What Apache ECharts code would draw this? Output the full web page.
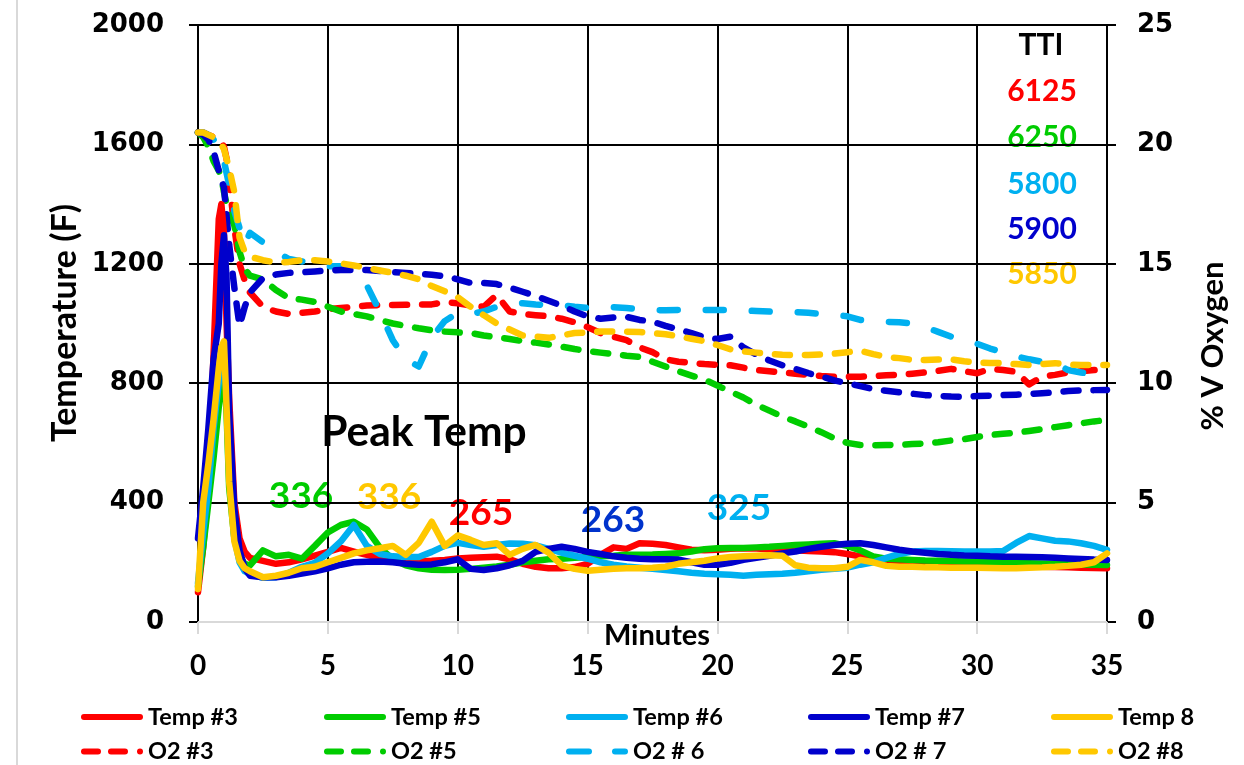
<!DOCTYPE html>
<html><head><meta charset="utf-8">
<script src="https://cdn.jsdelivr.net/npm/echarts@6/dist/echarts.min.js"></script>
<style>html,body{margin:0;padding:0;background:#fff}#c{width:1244px;height:765px}</style>
</head><body><div id="c"></div>
<script>
// ---- DATA ----
const minutes = [0,0.2,0.4,0.6,0.8,0.9,1.0,1.1,1.2,1.4,1.6,1.8,2.0,
  2.5,3,3.5,4,4.5,5,5.5,6,6.5,7,7.5,8,8.5,9,9.5,10,10.5,11,11.5,12,12.5,13,13.5,14,14.5,
  15,15.5,16,16.5,17,17.5,18,18.5,19,19.5,20,20.5,21,21.5,22,22.5,23,23.5,24,24.5,
  25,25.5,26,26.5,27,27.5,28,28.5,29,29.5,30,30.5,31,31.5,32,32.5,33,33.5,34,34.5,35];

const temp3 = [100,250,450,900,1350,1400,1300,1000,750,400,280,235,215,
  205,195,200,210,222,
  235,248,236,225,214,208,204,203,205,208,
  213,215,217,219,210,195,185,180,180,184,
  195,225,250,245,264,262,258,250,242,240,
  242,245,247,246,244,242,240,238,236,234,
  228,220,212,206,203,200,198,196,194,192,
  191,190,188,187,186,185,184,183,182,181,
  180];
const temp5 = [120,250,400,550,720,800,850,700,450,280,220,195,190,
  240,220,225,212,255,
  300,325,336,310,250,210,190,180,175,174,
  175,178,182,186,192,200,205,210,212,215,
  218,220,222,225,225,226,228,230,236,244,
  247,248,248,250,252,255,258,260,262,264,
  255,240,220,212,210,208,206,205,204,203,
  203,202,200,198,197,196,195,194,193,192,
  191];
const temp6 = [130,300,450,650,800,880,900,760,500,280,200,170,160,
  148,150,165,185,198,
  230,270,325,255,228,220,218,218,235,255,
  265,258,252,258,263,262,257,245,232,222,
  212,200,192,186,182,178,174,170,165,162,
  160,158,155,158,160,162,165,170,175,178,
  182,192,200,215,228,236,238,238,237,236,
  236,236,238,265,288,280,272,270,264,255,
  242];
const temp7 = [280,450,650,880,1000,1200,1296,1150,700,380,240,180,155,
  150,150,155,162,170,
  180,192,200,202,203,200,195,192,193,200,
  210,178,174,180,190,205,235,245,252,245,
  235,228,220,215,212,210,210,209,200,192,
  192,198,208,215,222,230,236,245,252,258,
  262,264,258,250,242,236,232,228,225,223,
  222,220,219,219,218,217,215,213,211,209,
  208];
const temp8 = [110,400,530,680,850,920,940,720,470,270,205,180,170,
  150,155,165,180,185,
  200,215,230,240,247,255,225,265,336,255,
  290,275,258,264,225,245,258,232,190,178,
  172,175,178,180,180,182,185,195,200,205,
  213,218,220,222,224,222,190,182,180,180,
  185,208,200,188,185,185,183,183,182,182,
  182,181,180,180,182,183,185,188,192,200,
  230];

const o2_3 = [20.5,20.5,20.4,20.3,20.2,20.1,19.9,19.4,18.5,16.5,15.0,14.3,13.8,
  13.2,13.0,12.9,12.95,13.0,
  13.1,13.15,13.2,13.25,13.27,13.27,13.28,13.3,13.3,13.4,
  13.35,13.25,13.2,13.7,13.0,12.9,12.85,12.8,12.7,12.55,
  12.35,12.1,11.95,11.8,11.5,11.3,11.0,10.9,10.85,10.8,
  10.77,10.75,10.65,10.55,10.5,10.45,10.4,10.35,10.3,10.27,
  10.27,10.27,10.3,10.33,10.36,10.4,10.45,10.52,10.6,10.5,
  10.42,10.6,10.55,10.48,9.95,10.27,10.35,10.45,10.5,10.55,
  10.6];
const o2_5 = [20.5,20.3,19.9,19.3,18.9,18.6,18.0,17.5,17.2,16.6,15.5,14.8,14.5,
  14.35,13.9,13.56,13.5,13.4,
  13.2,13.0,12.9,12.8,12.65,12.5,12.4,12.3,12.22,12.16,
  12.13,12.1,12.0,11.92,11.85,11.76,11.7,11.62,11.53,11.43,
  11.35,11.28,11.22,11.15,11.1,10.9,10.7,10.5,10.32,10.15,
  9.9,9.65,9.4,9.1,8.85,8.6,8.4,8.18,7.95,7.69,
  7.5,7.41,7.4,7.41,7.42,7.45,7.48,7.53,7.6,7.66,
  7.75,7.83,7.88,7.93,8.0,8.08,8.16,8.24,8.32,8.4,
  8.46];
const o2_6 = [20.5,20.5,20.4,20.2,19.9,19.6,19.3,18.8,18.3,17.2,16.5,15.8,16.3,
  15.9,15.5,15.2,15.1,15.0,
  14.9,14.9,14.6,14.1,13.0,11.8,11.0,10.7,11.9,12.6,
  12.95,12.9,13.0,13.2,13.3,13.35,13.3,13.27,13.27,13.2,
  13.15,13.15,13.18,13.15,13.1,13.07,13.05,13.07,13.07,13.07,
  13.07,13.07,13.05,13.02,13.0,12.98,12.98,12.95,12.9,12.87,
  12.8,12.65,12.6,12.57,12.55,12.5,12.35,12.15,11.95,11.8,
  11.65,11.45,11.3,11.12,11.0,10.9,10.85,10.55,10.45,10.35,
  10.25];
const o2_7 = [20.5,20.4,20.2,19.7,18.9,18.5,18.2,17.0,15.8,14.0,12.4,13.2,13.8,
  14.4,14.55,14.62,14.65,14.68,
  14.72,14.74,14.74,14.74,14.7,14.65,14.62,14.58,14.54,14.48,
  14.35,14.2,14.2,14.15,14.0,13.83,13.65,13.45,13.25,13.0,
  12.8,12.7,12.75,12.78,12.65,12.58,12.4,12.25,12.1,11.92,
  11.85,11.95,11.5,11.2,10.95,10.75,10.6,10.42,10.28,10.12,
  10.0,9.88,9.75,9.68,9.62,9.56,9.5,9.47,9.44,9.43,
  9.46,9.48,9.5,9.52,9.55,9.58,9.62,9.67,9.7,9.71,
  9.72];
const o2_8 = [20.5,20.5,20.4,20.3,20.1,20.0,19.8,19.4,19.0,18.0,16.1,15.5,15.3,
  15.15,15.05,15.08,15.15,15.15,
  15.1,15.02,14.93,14.83,14.72,14.62,14.5,14.35,14.07,13.85,
  13.6,13.2,12.85,12.5,12.25,12.0,11.95,11.9,12.0,12.1,
  12.13,12.16,12.16,12.16,12.14,12.1,12.05,11.97,11.86,11.76,
  11.6,11.42,11.33,11.28,11.23,11.19,11.18,11.18,11.2,11.24,
  11.3,11.36,11.22,11.1,11.05,10.98,10.97,10.99,11.0,10.92,
  10.86,10.85,10.84,10.8,10.76,10.8,10.84,10.78,10.76,10.76,
  10.76];

const tempNames = ['Temp #3','Temp #5','Temp #6','Temp #7','Temp 8'];
const o2Names = ['O2 #3','O2 #5','O2 # 6','O2 # 7','O2 #8'];
const peakValues = ['336','336','265','263','325'];
const ttiValues = ['6125','6250','5800','5900','5850'];
const xTicks = {min:0, max:35, interval:5};
const tempTicks = {min:0, max:2000, interval:400};
const o2Ticks = {min:0, max:25, interval:5};

// ---- STYLE ----
const colors = ['#FF0000','#00CC00','#00B0F0','#0000CC','#FFC800'];
const LATO = 'Lato, "Open Sans", sans-serif';
const VERD = '"DejaVu Sans", Verdana, sans-serif';
const LW = 6.5;
const pair = vals => minutes.map((t,i)=>[t, vals[i]]);
const temps = [temp3,temp5,temp6,temp7,temp8];
const o2s = [o2_3,o2_5,o2_6,o2_7,o2_8];

const series = [];
temps.forEach((d,i)=>series.push({
  name: tempNames[i], type:'line', data: pair(d), yAxisIndex:0,
  showSymbol:false, symbol:'none', smooth:false, z: 3,
  lineStyle:{color:colors[i], width:LW, cap:'round', join:'round'},
  itemStyle:{color:colors[i]}
}));
o2s.forEach((d,i)=>series.push({
  name: o2Names[i], type:'line', data: pair(d), yAxisIndex:1,
  showSymbol:false, symbol:'none', smooth:false, z: 2,
  lineStyle:{color:colors[i], width:LW, cap:'round', join:'round',
    type: i===2 ? [18,28] : [15,15]},
  itemStyle:{color:colors[i]}
}));

// legend icons (62 x 6 boxes)
const rr = (a,b) => `M${a+3},0H${b-3}A3,3 0 0 1 ${b-3},6H${a+3}A3,3 0 0 1 ${a+3},0Z`;
const ICON_SOLID = 'path://' + rr(0,62);
const ICON_DASH = 'path://' + rr(0,20) + rr(27,47) + 'M59,0A3,3 0 0 1 59,6A3,3 0 0 1 59,0Z';
const ICON_LDASH = 'path://' + rr(0,26) + rr(46,62);

const colLeft = [81,324,566,808,1051];
const legends = colLeft.map((l,i)=>({
  data:[{name:tempNames[i], icon:ICON_SOLID}, {name:o2Names[i], icon: i===2 ? ICON_LDASH : ICON_DASH}],
  orient:'vertical', left:l, top:705,
  itemWidth:62, itemHeight:6, itemGap:10.5, padding:0,
  itemStyle:{borderWidth:0},
  textStyle:{fontFamily:LATO, fontWeight:'bold', fontSize:23.5, color:'#000'},
  selectedMode:false
}));

const peakPos = [[301,496],[389,497],[481,513],[613,520],[739,508]];
const ttiY = [91,137,184,229,274];
const graphics = [
  {type:'line', shape:{x1:17,y1:0,x2:17,y2:765}, style:{stroke:'#D9D9D9', lineWidth:2}, silent:true},
  {type:'text', x:65, y:323, rotation:Math.PI/2, style:{text:'Temperature (F)', font:'bold 34px '+LATO, fill:'#000', align:'center', verticalAlign:'middle'}},
  {type:'text', x:1213, y:346, rotation:Math.PI/2, style:{text:'% V Oxygen', font:'bold 31px '+LATO, fill:'#000', align:'center', verticalAlign:'middle'}},
  {type:'text', x:657, y:636, style:{text:'Minutes', font:'bold 29px '+LATO, fill:'#000', align:'center', verticalAlign:'middle'}},
  {type:'text', x:424, y:432, style:{text:'Peak Temp', font:'bold 42.5px '+LATO, fill:'#000', align:'center', verticalAlign:'middle'}},
  {type:'text', x:1041, y:45, style:{text:'TTI', font:'bold 30px '+LATO, fill:'#000', align:'center', verticalAlign:'middle'}}
];
const peakColors = ['#00CC00','#FFC800','#FF0000','#0033CC','#00B0F0'];
peakValues.forEach((v,i)=>graphics.push({type:'text', x:peakPos[i][0], y:peakPos[i][1],
  style:{text:v, font:'bold 37px '+LATO, fill:peakColors[i], align:'center', verticalAlign:'middle'}}));
ttiValues.forEach((v,i)=>graphics.push({type:'text', x:1042, y:ttiY[i],
  style:{text:v, font:'bold 30px '+LATO, fill:colors[i], align:'center', verticalAlign:'middle'}}));

const chart = echarts.init(document.getElementById('c'), null, {renderer:'canvas'});
chart.setOption({
  animation:false,
  backgroundColor:'#fff',
  grid:{left:198, right:137, top:25, bottom:143, containLabel:false},
  xAxis:{type:'value', min:xTicks.min, max:xTicks.max, interval:xTicks.interval,
    axisLine:{show:true, onZero:false, lineStyle:{color:'#D9D9D9', width:2}},
    axisTick:{show:true, length:12, lineStyle:{color:'#D9D9D9', width:2}},
    splitLine:{show:true, lineStyle:{color:'#000', width:2}},
    axisLabel:{margin:30, color:'#000', fontFamily:LATO, fontWeight:'bold', fontSize:28}},
  yAxis:[
    {type:'value', min:tempTicks.min, max:tempTicks.max, interval:tempTicks.interval, position:'left',
     axisLine:{show:true, lineStyle:{color:'#000', width:2}},
     axisTick:{show:true, length:9, lineStyle:{color:'#000', width:2}},
     splitLine:{show:true, showMinLine:false, lineStyle:{color:'#000', width:2}},
     axisLabel:{margin:34, color:'#000', fontFamily:VERD, fontWeight:'bold', fontSize:26, formatter: v => String(v)}},
    {type:'value', min:o2Ticks.min, max:o2Ticks.max, interval:o2Ticks.interval, position:'right',
     axisLine:{show:true, lineStyle:{color:'#000', width:2}},
     axisTick:{show:true, length:9, lineStyle:{color:'#000', width:2}},
     splitLine:{show:false},
     axisLabel:{margin:30, color:'#000', fontFamily:VERD, fontWeight:'bold', fontSize:26, formatter: v => String(v)}}
  ],
  legend: legends,
  graphic: graphics,
  series: series
});
</script></body></html>
